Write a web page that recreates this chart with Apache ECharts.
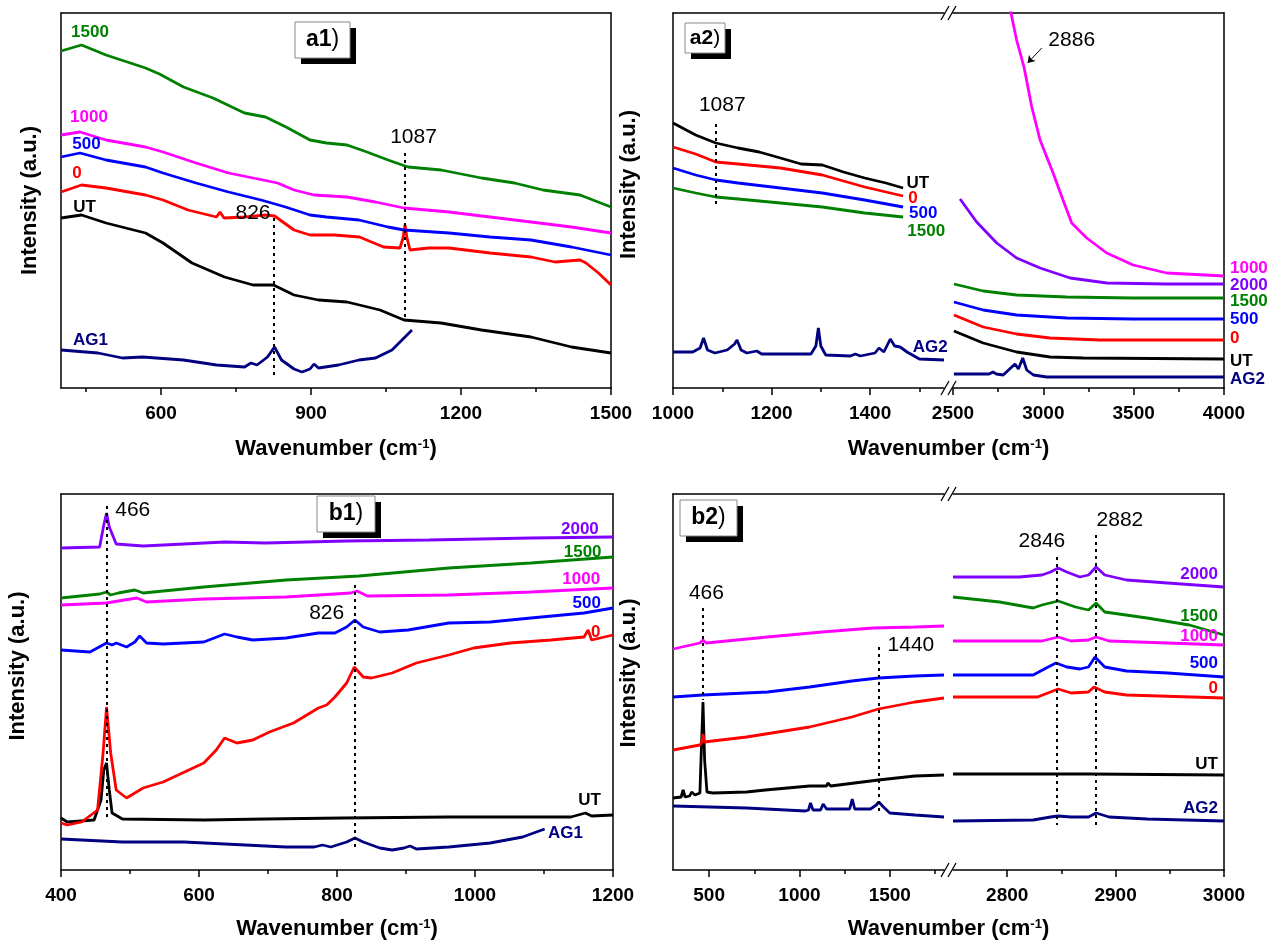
<!DOCTYPE html>
<html>
<head>
<meta charset="utf-8">
<script src="https://cdn.jsdelivr.net/npm/echarts@6/dist/echarts.min.js"></script>
<style>
html,body{margin:0;padding:0;background:#fff;}
#main{width:1281px;height:941px;}
</style>
</head>
<body>
<div id="main"></div>
<script>
// ---- data: [wavenumber (cm-1), intensity (a.u.)] ----
// panel a1
var a1_AG1 = [[400,38],[474,35],[523,30],[563,31],[645,28],[711,23],[767,21],[780,25],[792,23],[813,31],[827,41],[841,28],[866,19],[882,16],[898,19],[906,24],[915,20],[955,23],[996,28],[1029,30],[1062,38],[1102,58]];
var a1_UT = [[400,170],[441,173],[490,165],[569,155],[604,145],[662,125],[727,111],[784,103],[825,103],[866,93],[915,88],[972,86],[1038,78],[1086,68],[1160,65],[1241,58],[1340,51],[1421,41],[1500,35]];
var a1_0 = [[400,196],[441,203],[490,200],[569,193],[604,188],[654,178],[711,171],[718,176],[726,170],[768,171],[809,173],[827,172],[866,158],[898,153],[947,153],[997,151],[1045,141],[1078,140],[1084,150],[1088,163],[1092,150],[1098,138],[1135,140],[1176,140],[1258,135],[1340,131],[1388,126],[1438,128],[1450,125],[1475,115],[1500,103]];
var a1_500 = [[400,231],[438,235],[490,228],[569,221],[604,215],[670,205],[735,196],[800,188],[849,181],[898,173],[931,171],[996,168],[1054,161],[1086,158],[1176,155],[1258,151],[1340,148],[1421,141],[1500,133]];
var a1_1000 = [[400,253],[438,256],[490,248],[569,241],[604,236],[670,225],[735,215],[784,210],[833,205],[866,198],[906,193],[972,191],[1029,186],[1086,180],[1176,176],[1258,171],[1340,166],[1421,161],[1500,155]];
var a1_1500 = [[400,337],[441,343],[490,333],[569,320],[597,314],[645,301],[704,290],[767,275],[809,271],[850,261],[898,248],[931,245],[972,243],[1012,236],[1054,228],[1094,221],[1160,218],[1241,210],[1307,205],[1364,198],[1438,193],[1500,181]];

// panel a2, low wavenumber part
var a2L_AG2 = [[1000,36],[1040,36],[1055,40],[1062,50],[1070,38],[1085,35],[1110,38],[1125,44],[1130,48],[1138,38],[1150,35],[1170,37],[1180,34],[1280,34],[1290,42],[1295,60],[1300,42],[1310,33],[1360,32],[1370,34],[1380,32],[1410,35],[1418,40],[1428,36],[1441,49],[1450,42],[1461,41],[1475,36],[1500,29],[1550,28]];
var a2L_UT = [[1000,265],[1046,253],[1087,245],[1132,240],[1175,236],[1218,230],[1260,224],[1303,223],[1346,216],[1389,210],[1432,205],[1467,200]];
var a2L_0 = [[1000,241],[1046,234],[1087,226],[1132,224],[1218,220],[1303,213],[1389,201],[1467,192]];
var a2L_500 = [[1000,220],[1046,213],[1087,208],[1132,205],[1218,200],[1303,195],[1389,188],[1467,181]];
var a2L_1500 = [[1000,200],[1046,195],[1087,191],[1132,189],[1218,185],[1303,181],[1389,175],[1467,171]];
// panel a2, high wavenumber part
var a2R_AG2 = [[2505,14],[2700,14],[2721,16],[2740,14],[2778,13],[2843,24],[2862,19],[2886,30],[2908,18],[2945,13],[3019,11],[4000,11]];
var a2R_UT = [[2505,57],[2667,45],[2852,36],[3037,31],[3221,30],[4000,29]];
var a2R_0 = [[2505,73],[2667,61],[2852,54],[3037,50],[3313,48],[4000,48]];
var a2R_500 = [[2505,86],[2667,78],[2852,73],[3129,70],[3497,69],[4000,69]];
var a2R_1500 = [[2505,104],[2667,97],[2852,93],[3129,91],[3497,90],[4000,90]];
var a2R_2000 = [[2539,189],[2631,166],[2742,145],[2852,130],[2982,120],[3148,110],[3351,105],[3683,104],[4000,104]];
var a2R_1000 = [[2790,402],[2821,375],[2852,348],[2893,321],[2936,281],[2982,248],[3054,215],[3109,188],[3157,165],[3240,150],[3351,135],[3497,123],[3683,115],[4000,112]];

// panel b1
var b1_AG1 = [[400,31],[489,28],[578,28],[667,25],[726,23],[767,23],[779,25],[791,23],[814,28],[826,32],[838,28],[862,22],[880,20],[897,22],[906,24],[915,21],[962,23],[1022,27],[1069,33],[1101,41]];
var b1_UT = [[400,52],[409,48],[448,50],[458,70],[462,100],[466,107],[470,80],[474,57],[489,51],[607,50],[696,51],[808,52],[962,53],[1139,53],[1160,57],[1169,54],[1200,55]];
var b1_0 = [[400,47],[409,45],[430,48],[453,60],[461,117],[466,163],[472,117],[480,80],[495,72],[519,82],[548,88],[607,107],[625,120],[637,132],[655,127],[678,130],[702,138],[737,147],[773,162],[785,165],[797,173],[814,187],[825,203],[838,193],[850,192],[880,197],[915,207],[962,215],[998,222],[1051,227],[1110,230],[1158,233],[1164,240],[1169,230],[1200,235]];
var b1_500 = [[400,220],[442,218],[466,227],[474,225],[480,227],[495,223],[507,228],[514,234],[524,227],[548,226],[607,228],[637,236],[655,233],[678,230],[726,232],[773,237],[797,237],[814,243],[826,250],[838,243],[862,238],[903,240],[962,247],[1022,248],[1081,252],[1158,257],[1200,262]];
var b1_1000 = [[400,265],[466,267],[483,269],[510,272],[524,268],[607,271],[726,273],[820,277],[829,279],[844,274],[962,275],[1081,278],[1200,282]];
var b1_1500 = [[400,272],[456,276],[466,278],[472,275],[483,277],[507,280],[519,277],[607,283],[726,290],[832,294],[962,302],[1081,307],[1200,313]];
var b1_2000 = [[400,322],[456,323],[462,345],[466,357],[470,343],[480,326],[519,324],[637,328],[696,327],[814,329],[933,330],[1081,332],[1200,333]];

// panel b2, low wavenumber part
var b2L_AG2 = [[300,64],[707,62],[1033,59],[1050,60],[1061,67],[1075,60],[1117,60],[1131,66],[1150,61],[1278,61],[1292,71],[1306,61],[1393,61],[1425,65],[1439,68],[1465,63],[1500,57],[1639,55],[1800,53]];
var b2L_UT = [[300,72],[345,73],[356,80],[367,73],[392,74],[403,78],[422,75],[449,77],[455,110],[466,168],[475,110],[488,78],[520,77],[707,78],[811,80],[1056,84],[1150,84],[1157,87],[1173,84],[1437,90],[1639,94],[1800,95]];
var b2L_0 = [[300,120],[449,125],[460,128],[466,136],[472,128],[483,127],[707,133],[1056,143],[1290,153],[1437,161],[1639,168],[1800,172]];
var b2L_500 = [[300,173],[464,175],[823,178],[1056,183],[1290,189],[1437,192],[1639,194],[1800,195]];
var b2L_1000 = [[300,221],[449,227],[466,230],[483,227],[823,233],[1125,238],[1407,242],[1639,243],[1800,244]];
// panel b2, high wavenumber part
var b2R_AG2 = [[2750,49],[2824,50],[2840,53],[2847,54],[2859,53],[2875,53],[2882,57],[2894,53],[2929,51],[3000,49]];
var b2R_UT = [[2750,96],[2875,96],[3000,95]];
var b2R_0 = [[2750,173],[2828,173],[2847,181],[2859,177],[2875,178],[2880,183],[2890,178],[2910,175],[3000,172]];
var b2R_500 = [[2750,195],[2824,195],[2836,202],[2845,207],[2855,203],[2867,201],[2875,203],[2881,213],[2890,203],[2910,199],[2948,197],[3000,193]];
var b2R_1000 = [[2750,229],[2832,229],[2847,233],[2859,229],[2875,230],[2882,233],[2894,229],[2948,227],[3000,225]];
var b2R_1500 = [[2750,273],[2793,268],[2824,262],[2832,265],[2847,269],[2863,263],[2875,260],[2882,267],[2890,258],[2929,252],[2968,245],[3000,235]];
var b2R_2000 = [[2750,293],[2772,293],[2811,293],[2832,295],[2840,298],[2847,302],[2855,298],[2867,293],[2875,295],[2882,303],[2890,295],[2910,290],[2948,287],[3000,283]];

// tick values
var a1Major = [600,900,1200,1500], a1Minor = [450,750,1050,1350];
var a2LMajor = [1000,1200,1400], a2LMinor = [1100,1300,1500];
var a2RMajor = [2500,3000,3500,4000], a2RMinor = [2750,3250,3750];
var b1Major = [400,600,800,1000,1200], b1Minor = [500,700,900,1100];
var b2LMajor = [500,1000,1500], b2LMinor = [750,1250,1750];
var b2RMajor = [2800,2900,3000], b2RMinor = [2850,2950];

var FONT = '"Liberation Sans", Arial, sans-serif';
var cGreen = '#008000', cMag = '#ff00ff', cBlue = '#0000ff', cRed = '#ff0000',
    cBlack = '#000000', cNavy = '#000080', cPurple = '#8000ff';

var grids = [], xAxes = [], yAxes = [], series = [], graphics = [];

function off() { return {show: false}; }
function axLine() { return {show: true, onZero: false, lineStyle: {color: '#000', width: 1.5}}; }

// one plotting grid with its own axes; lines = which sides of the frame to draw
function addGrid(box, xr, yMax, majors, minors, lines) {
  grids.push({left: box[0], top: box[1], width: box[2], height: box[3]});
  var gi = grids.length - 1;
  xAxes.push({gridIndex: gi, type: 'value', min: xr[0], max: xr[1], position: 'bottom',
    axisLine: lines.bottom ? axLine() : off(),
    axisTick: {show: true, length: 7, lineStyle: {color: '#000', width: 1.5}, customValues: majors},
    axisLabel: {show: true, customValues: majors, margin: 16, color: '#000',
      fontFamily: FONT, fontWeight: 'bold', fontSize: 19,
      formatter: function (v) { return String(v); }},
    splitLine: off()});
  var xi = xAxes.length - 1;
  xAxes.push({gridIndex: gi, type: 'value', min: xr[0], max: xr[1], position: 'bottom',
    axisLine: off(), axisLabel: off(), splitLine: off(),
    axisTick: {show: true, length: 4, lineStyle: {color: '#000', width: 1.5}, customValues: minors}});
  if (lines.top) {
    xAxes.push({gridIndex: gi, type: 'value', min: xr[0], max: xr[1], position: 'top',
      axisLine: axLine(), axisTick: off(), axisLabel: off(), splitLine: off()});
  }
  yAxes.push({gridIndex: gi, type: 'value', min: 0, max: yMax, position: 'left',
    axisLine: lines.left ? axLine() : off(), axisTick: off(), axisLabel: off(), splitLine: off()});
  var yi = yAxes.length - 1;
  if (lines.right) {
    yAxes.push({gridIndex: gi, type: 'value', min: 0, max: yMax, position: 'right',
      axisLine: axLine(), axisTick: off(), axisLabel: off(), splitLine: off()});
  }
  return {x: xi, y: yi};
}

// invisible grid spanning a whole panel, only carries the axis titles
function addNames(box, xGap, yGap, yShift) {
  grids.push({left: box[0], top: box[1], width: box[2], height: box[3]});
  var gi = grids.length - 1;
  xAxes.push({gridIndex: gi, type: 'value', min: 0, max: 1, axisLine: off(), axisTick: off(),
    axisLabel: off(), splitLine: off(),
    name: 'Wavenumber (cm{sup|-1})', nameLocation: 'middle', nameGap: xGap,
    nameTextStyle: {color: '#000', fontFamily: FONT, fontWeight: 'bold', fontSize: 22,
      rich: {sup: {color: '#000', fontFamily: FONT, fontWeight: 'bold', fontSize: 13, verticalAlign: 'top'}}}});
  yAxes.push({gridIndex: gi, type: 'value', min: 0, max: 1, axisLine: off(), axisTick: off(),
    axisLabel: off(), splitLine: off(),
    name: 'Intensity (a.u.)', nameLocation: 'middle', nameGap: yGap,
    nameTextStyle: {color: '#000', fontFamily: FONT, fontWeight: 'bold', fontSize: 22,
      padding: [0, 0, 0, yShift * 2]}});
}

function addLine(ax, data, color, marks, lines) {
  var s = {type: 'line', xAxisIndex: ax.x, yAxisIndex: ax.y, data: data,
    symbol: 'none', showSymbol: false, silent: true, animation: false, clip: true,
    lineStyle: {color: color, width: 2.8}, itemStyle: {color: color}};
  if (marks) s.markPoint = {silent: true, animation: false, data: marks};
  if (lines) s.markLine = lines;
  series.push(s);
  return s;
}

// curve name tag
function tag(x, y, text, color, pos) {
  return {coord: [x, y], symbol: 'circle', symbolSize: 0,
    label: {show: true, formatter: text, position: pos || 'inside', distance: 6, color: color,
      fontFamily: FONT, fontWeight: 'bold', fontSize: 17}};
}
// peak position note
function note(x, y, text) {
  return {coord: [x, y], symbol: 'circle', symbolSize: 0,
    label: {show: true, formatter: text, position: 'inside', color: '#000',
      fontFamily: FONT, fontWeight: 'normal', fontSize: 21}};
}
function dotted(segs) {
  return {silent: true, animation: false, symbol: ['none', 'none'],
    lineStyle: {color: '#000', width: 2, type: [3, 4]}, label: {show: false},
    data: segs.map(function (s) { return [{coord: [s[0], s[1]]}, {coord: [s[0], s[2]]}]; })};
}

function panelLabel(x, y, w, h, bold, fs) {
  graphics.push({type: 'rect', shape: {x: x + 6, y: y + 6, width: w, height: h}, style: {fill: '#000'}, z: 10});
  graphics.push({type: 'rect', shape: {x: x, y: y, width: w, height: h}, style: {fill: '#fff', stroke: '#888', lineWidth: 1}, z: 11});
  graphics.push({type: 'text', x: x + w / 2, y: y + h / 2, z: 12,
    style: {text: '{b|' + bold + '})', align: 'center', verticalAlign: 'middle',
      fontFamily: FONT, fontSize: fs, fill: '#000',
      rich: {b: {fontFamily: FONT, fontSize: fs, fontWeight: 'bold', fill: '#000'}}}});
}

function breakMarks(cx, y) {
  [-3.5, 3.5].forEach(function (d) {
    graphics.push({type: 'line', z: 12,
      shape: {x1: cx + d - 4, y1: y + 7, x2: cx + d + 4, y2: y - 7},
      style: {stroke: '#000', lineWidth: 1.3}});
  });
}

// ---------- panel a1 ----------
var A1 = addGrid([61, 13, 550, 375], [400, 1500], 375, a1Major, a1Minor, {bottom: true, top: true, left: true, right: true});
addNames([61, 13, 550, 375], 50, 20, 0);
addLine(A1, a1_AG1, cNavy, [tag(459, 48, 'AG1', cNavy)]);
addLine(A1, a1_UT, cBlack, [tag(447, 181, 'UT', cBlack), note(784, 175, '826'), note(1105, 251, '1087')],
  dotted([[826, 170, 13], [1087, 235, 68]]));
addLine(A1, a1_0, cRed, [tag(432, 215, '0', cRed)]);
addLine(A1, a1_500, cBlue, [tag(451, 244, '500', cBlue)]);
addLine(A1, a1_1000, cMag, [tag(456, 271, '1000', cMag)]);
addLine(A1, a1_1500, cGreen, [tag(458, 356, '1500', cGreen)]);
panelLabel(295, 22, 55, 36, 'a1', 23);

// ---------- panel a2 (broken axis) ----------
var A2L = addGrid([673, 13, 271, 375], [1000, 1550], 375, a2LMajor, a2LMinor, {bottom: true, top: true, left: true});
var A2R = addGrid([953, 13, 271, 375], [2500, 4000], 375, a2RMajor, a2RMinor, {bottom: true, top: true, right: true});
addNames([673, 13, 551, 375], 50, 33, 16);
addLine(A2L, a2L_AG2, cNavy, [tag(1522, 41, 'AG2', cNavy)]);
addLine(A2L, a2L_UT, cBlack, [tag(1497, 205, 'UT', cBlack), note(1100, 283, '1087')], dotted([[1087, 264, 183]]));
addLine(A2L, a2L_0, cRed, [tag(1487, 190, '0', cRed)]);
addLine(A2L, a2L_500, cBlue, [tag(1508, 175, '500', cBlue)]);
addLine(A2L, a2L_1500, cGreen, [tag(1514, 157, '1500', cGreen)]);
addLine(A2R, a2R_AG2, cNavy, [tag(4000, 9, 'AG2', cNavy, 'right')]);
addLine(A2R, a2R_UT, cBlack, [tag(4000, 27, 'UT', cBlack, 'right')]);
addLine(A2R, a2R_0, cRed, [tag(4000, 50, '0', cRed, 'right')]);
addLine(A2R, a2R_500, cBlue, [tag(4000, 69, '500', cBlue, 'right')]);
addLine(A2R, a2R_1500, cGreen, [tag(4000, 87, '1500', cGreen, 'right')]);
addLine(A2R, a2R_2000, cPurple, [tag(4000, 103, '2000', cPurple, 'right')]);
addLine(A2R, a2R_1000, cMag, [tag(4000, 120, '1000', cMag, 'right'), note(3157, 348, '2886')],
  {silent: true, animation: false, symbol: ['none', 'arrow'], symbolSize: 7,
   lineStyle: {color: '#000', width: 1, type: 'solid'}, label: {show: false},
   data: [[{coord: [2991, 340]}, {coord: [2913, 325]}]]});
panelLabel(685, 23, 40, 30, 'a2', 21);
breakMarks(948.5, 13);
breakMarks(948.5, 388);

// ---------- panel b1 ----------
var B1 = addGrid([61, 494, 552, 376], [400, 1200], 376, b1Major, b1Minor, {bottom: true, top: true, left: true, right: true});
addNames([61, 494, 552, 376], 50, 32, 15);
addLine(B1, b1_AG1, cNavy, [tag(1131, 37, 'AG1', cNavy)]);
addLine(B1, b1_UT, cBlack, [tag(1166, 70, 'UT', cBlack), note(504, 360, '466'), note(785, 257, '826')],
  dotted([[466, 364, 50], [826, 285, 23]]));
addLine(B1, b1_0, cRed, [tag(1175, 238, '0', cRed)]);
addLine(B1, b1_500, cBlue, [tag(1162, 267, '500', cBlue)]);
addLine(B1, b1_1000, cMag, [tag(1154, 291, '1000', cMag)]);
addLine(B1, b1_1500, cGreen, [tag(1156, 318, '1500', cGreen)]);
addLine(B1, b1_2000, cPurple, [tag(1152, 341, '2000', cPurple)]);
panelLabel(317, 496, 58, 36, 'b1', 23);

// ---------- panel b2 (broken axis) ----------
var B2L = addGrid([673, 494, 271, 376], [300, 1800], 376, b2LMajor, b2LMinor, {bottom: true, top: true, left: true});
var B2R = addGrid([953, 494, 271, 376], [2750, 3000], 376, b2RMajor, b2RMinor, {bottom: true, top: true, right: true});
addNames([673, 494, 551, 376], 50, 33, 8);
addLine(B2L, b2L_AG2, cNavy);
addLine(B2L, b2L_UT, cBlack, [note(485, 277, '466'), note(1617, 225, '1440')], dotted([[466, 262, 170], [1440, 223, 55]]));
addLine(B2L, b2L_0, cRed);
addLine(B2L, b2L_500, cBlue);
addLine(B2L, b2L_1000, cMag);
addLine(B2R, b2R_AG2, cNavy, [tag(3000, 62, 'AG2', cNavy, 'left')]);
addLine(B2R, b2R_UT, cBlack, [tag(3000, 106, 'UT', cBlack, 'left'), note(2832, 329, '2846'), note(2904, 350, '2882')],
  dotted([[2846, 313, 45], [2882, 335, 45]]));
addLine(B2R, b2R_0, cRed, [tag(3000, 182, '0', cRed, 'left')]);
addLine(B2R, b2R_500, cBlue, [tag(3000, 207, '500', cBlue, 'left')]);
addLine(B2R, b2R_1000, cMag, [tag(3000, 234, '1000', cMag, 'left')]);
addLine(B2R, b2R_1500, cGreen, [tag(3000, 254, '1500', cGreen, 'left')]);
addLine(B2R, b2R_2000, cPurple, [tag(3000, 296, '2000', cPurple, 'left')]);
panelLabel(680, 500, 57, 36, 'b2', 23);
breakMarks(948.5, 494);
breakMarks(948.5, 870);

var chart = echarts.init(document.getElementById('main'));
chart.setOption({
  animation: false,
  backgroundColor: '#fff',
  textStyle: {fontFamily: FONT},
  grid: grids,
  xAxis: xAxes,
  yAxis: yAxes,
  series: series,
  graphic: graphics
});
window.onresize = function () { chart.resize(); };
</script>
</body>
</html>
